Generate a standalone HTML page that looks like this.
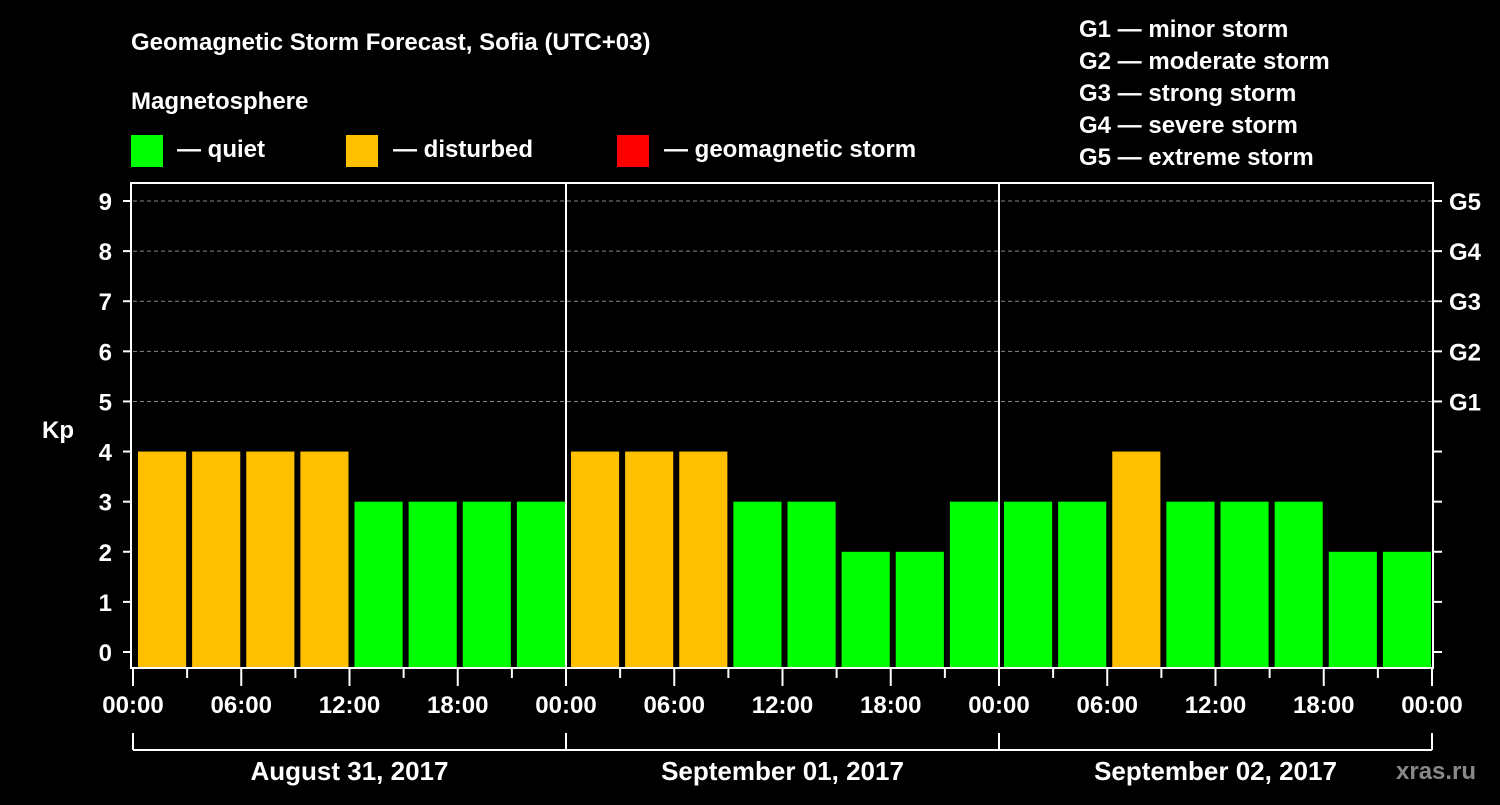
<!DOCTYPE html>
<html><head><meta charset="utf-8"><style>
html,body{margin:0;padding:0;background:#000;}
svg text{font-family:"Liberation Sans",Arial,sans-serif;font-weight:bold;fill:#fff;}
</style></head><body>
<svg id="chart" width="1500" height="800" viewBox="0 0 1500 800" xmlns="http://www.w3.org/2000/svg">
<rect width="1500" height="800" fill="#000"/>
<text x="131" y="50" font-size="24">Geomagnetic Storm Forecast, Sofia (UTC+03)</text>
<text x="131" y="109" font-size="24">Magnetosphere</text>
<rect x="131" y="135" width="32" height="32" fill="#00ff00"/>
<text x="177" y="157" font-size="24">— quiet</text>
<rect x="346" y="135" width="32" height="32" fill="#ffc000"/>
<text x="393" y="157" font-size="24">— disturbed</text>
<rect x="617" y="135" width="32" height="32" fill="#ff0000"/>
<text x="664" y="157" font-size="24">— geomagnetic storm</text>
<g font-size="24">
<text x="1079" y="37">G1 — minor storm</text>
<text x="1079" y="69">G2 — moderate storm</text>
<text x="1079" y="101">G3 — strong storm</text>
<text x="1079" y="133">G4 — severe storm</text>
<text x="1079" y="165">G5 — extreme storm</text>
</g>
<text x="42" y="438" font-size="24">Kp</text>
<g id="grid"></g><g id="bars"></g><g id="axes"></g>
<text x="1396" y="779" font-size="24" fill="#888" style="fill:#888">xras.ru</text>
</svg>
<script>
const values = [4,4,4,4,3,3,3,3, 4,4,4,3,3,2,2,3, 3,3,4,3,3,3,2,2];
const days = ["August 31, 2017","September 01, 2017","September 02, 2017"];
const yTicks = [0,1,2,3,4,5,6,7,8,9];
const gLabels = ["G1","G2","G3","G4","G5"];
const timeLabels = ["00:00","06:00","12:00","18:00"];
const NS="http://www.w3.org/2000/svg";
const L=133,R=1432,T=183,B=668;
const slot=(R-L)/24;
const y=v=>652-v*50.11;
const x=i=>L+i*slot;
function mk(tag,attrs,parent){const e=document.createElementNS(NS,tag);for(const k in attrs)e.setAttribute(k,attrs[k]);document.getElementById(parent).appendChild(e);return e;}
yTicks.forEach(v=>{
 if(v>=5){const g=mk('line',{x1:L,x2:R,y1:y(v),y2:y(v),stroke:'#888','stroke-dasharray':'4,3','stroke-width':1},'grid');
 
 }
});
values.forEach((v,i)=>{
 const r=mk('rect',{x:x(i)+5,y:y(v),width:slot-6,height:B-y(v),fill:v>=5?'#ff0000':(v>=4?'#ffc000':'#00ff00')},'bars');
 
 
});
mk('rect',{x:L-2,y:T,width:R-L+3,height:B-T,fill:'none',stroke:'#fff','stroke-width':2},'axes');
for(let d=1;d<days.length;d++){mk('line',{x1:x(d*8),x2:x(d*8),y1:T,y2:B,stroke:'#fff','stroke-width':2},'axes');}
yTicks.forEach(v=>{
 mk('line',{x1:123,x2:L-2,y1:y(v),y2:y(v),stroke:'#fff','stroke-width':2},'axes');
 mk('line',{x1:R+1,x2:R+10,y1:y(v),y2:y(v),stroke:'#fff','stroke-width':2},'axes');
 const t=mk('text',{x:112,y:y(v)+9,'font-size':24,'text-anchor':'end'},'axes');t.textContent=v;
 
 
});
gLabels.forEach((g,i)=>{
 const t=mk('text',{x:1449,y:y(i+5)+9,'font-size':24},'axes');t.textContent=g;
 
 
});
for(let i=0;i<=24;i++){
 const major=i%2===0;
 mk('line',{x1:x(i),x2:x(i),y1:B+1,y2:major?B+18:B+10,stroke:'#fff','stroke-width':2},'axes');
 if(major){const t=mk('text',{x:x(i),y:713,'font-size':24,'text-anchor':'middle'},'axes');t.textContent=timeLabels[(i/2)%4];
 
 }
}
days.forEach((d,k)=>{
 const x0=x(k*8),x1=x((k+1)*8);
 mk('line',{x1:x0,x2:x1,y1:750,y2:750,stroke:'#fff','stroke-width':2},'axes');
 mk('line',{x1:x0,x2:x0,y1:733,y2:750,stroke:'#fff','stroke-width':2},'axes');
 if(k===days.length-1)mk('line',{x1:x1,x2:x1,y1:733,y2:750,stroke:'#fff','stroke-width':2},'axes');
 const t=mk('text',{x:(x0+x1)/2,y:780,'font-size':26,'text-anchor':'middle'},'axes');t.textContent=d;
 
 
});
</script>
</body></html>
